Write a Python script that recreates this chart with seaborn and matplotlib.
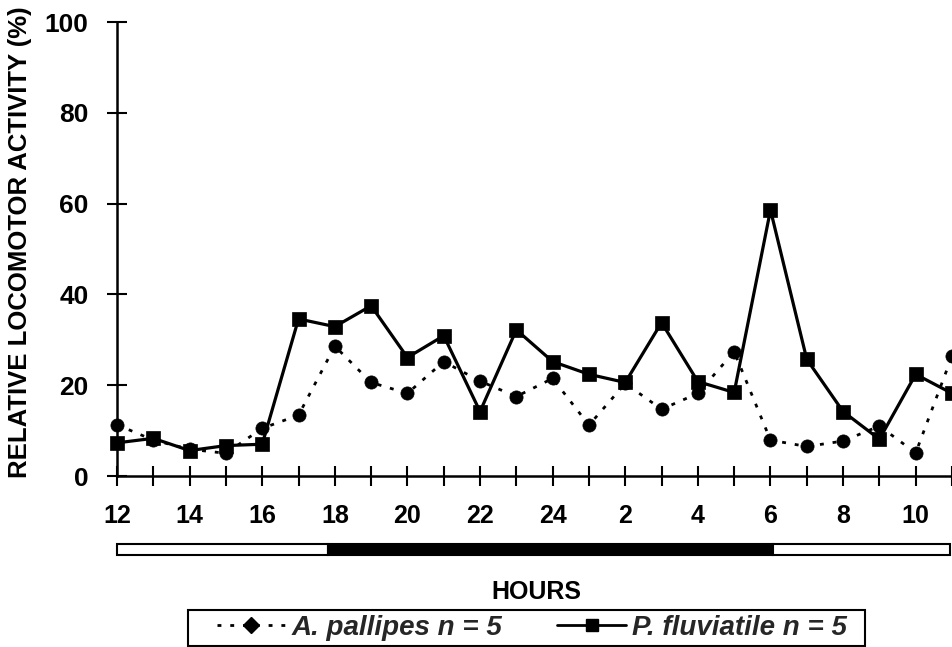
import numpy as np
import pandas as pd
import matplotlib
matplotlib.use("Agg")
import matplotlib.pyplot as plt
import matplotlib.transforms as mtransforms
from matplotlib.patches import Rectangle
from matplotlib.lines import Line2D
import seaborn as sns

# ---- data ----
hours = [12, 13, 14, 15, 16, 17, 18, 19, 20, 21, 22, 23,
         24, 1, 2, 3, 4, 5, 6, 7, 8, 9, 10, 11]
pallipes = [11.3, 7.9, 5.9, 5.0, 10.5, 13.4, 28.6, 20.6, 18.2, 25.2, 20.9, 17.5,
            21.5, 11.2, 20.4, 14.7, 18.2, 27.4, 7.9, 6.5, 7.7, 11.0, 5.1, 26.4]
fluviatile = [7.3, 8.3, 5.6, 6.7, 7.0, 34.6, 32.9, 37.5, 26.1, 30.9, 14.2, 32.2,
              25.2, 22.4, 20.6, 33.8, 20.8, 18.4, 58.6, 25.7, 14.2, 8.1, 22.4, 18.2]
light_dark = [("light", 0.0, 5.8), ("dark", 5.8, 18.07), ("light", 18.07, 22.95)]
labels = ["A. pallipes n = 5", "P. fluviatile n = 5"]

sns.set_theme(style="white")
plt.rcParams["font.family"] = ["Liberation Sans", "DejaVu Sans"]
plt.rcParams["font.weight"] = "bold"

W, H = 953, 647
fig = plt.figure(figsize=(W / 100, H / 100), dpi=100)
ax = fig.add_axes([117 / W, 1 - 476 / H, (952 - 117) / W, (476 - 22) / H])

pos = np.arange(len(hours))
df = pd.DataFrame({"pos": pos, "pallipes": pallipes, "fluviatile": fluviatile})

dotted = (0, (1.4, 3.2))
sns.lineplot(data=df, x="pos", y="pallipes", ax=ax, color="black",
             marker="o", markersize=9.5, linewidth=2.0, linestyle=dotted,
             markeredgecolor="black", markeredgewidth=0.5, clip_on=False, zorder=3)
sns.lineplot(data=df, x="pos", y="fluviatile", ax=ax, color="black",
             marker="s", markersize=9.5, linewidth=2.3, linestyle="-",
             markeredgecolor="black", markeredgewidth=0.5, clip_on=False, zorder=4)

ax.set_xlim(0, 23)
ax.set_ylim(0, 100)
ax.set_xticks(pos)
ax.set_xticklabels([str(h) if i % 2 == 0 else "" for i, h in enumerate(hours)])
ax.set_yticks([0, 20, 40, 60, 80, 100])
ax.set_xlabel("")
ax.set_ylabel("")

for s in ["top", "right"]:
    ax.spines[s].set_visible(False)
for s in ["left", "bottom"]:
    ax.spines[s].set_color("black")
    ax.spines[s].set_linewidth(1.8)

ax.tick_params(axis="both", which="major", bottom=True, left=True,
               direction="inout", length=15, width=1.5,
               color="black", labelsize=18, labelcolor="black")
ax.tick_params(axis="y", pad=13, labelsize=19)
ax.tick_params(axis="x", pad=13)
for t in ax.get_xticklabels() + ax.get_yticklabels():
    t.set_fontweight("bold")

# light/dark bar
trans = mtransforms.blended_transform_factory(ax.transData, ax.transAxes)
y0 = (476 - 555) / (476 - 22)
h = (555 - 544) / (476 - 22)
for phase, a, b in light_dark:
    ax.add_patch(Rectangle((a, y0), b - a, h, transform=trans, clip_on=False,
                           facecolor="black" if phase == "dark" else "white",
                           edgecolor="black", linewidth=1.5))

fig.text(536 / W, 1 - 592 / H, "HOURS", ha="center", va="center",
         fontsize=18, fontweight="bold", color="black")
fig.text(20 / W, 1 - 242 / H, "RELATIVE LOCOMOTOR ACTIVITY (%)", rotation=90,
         ha="center", va="center", fontsize=18.5, fontweight="bold", color="black")

# legend: frame drawn as a figure rectangle, entries placed inside it
fig.patches.append(Rectangle((188 / W, 1 - 646 / H), (865 - 188) / W, 36 / H,
                             transform=fig.transFigure, facecolor="white",
                             edgecolor="black", linewidth=1.5, zorder=1))
handles = [
    Line2D([], [], color="black", linestyle=dotted, linewidth=2.0,
           marker="D", markersize=8),
    Line2D([], [], color="black", linestyle="-", linewidth=2.0,
           marker="s", markersize=8),
]
leg = fig.legend(handles, labels, ncol=2, loc="center left",
                 bbox_to_anchor=(217 / W, 1 - 628 / H),
                 frameon=False, handlelength=2.45, borderpad=0.0,
                 borderaxespad=0.0, columnspacing=2.0, handletextpad=0.22,
                 prop={"size": 20, "weight": "bold", "style": "italic"})
leg.set_zorder(2)

fig.savefig("out.png", dpi=100, facecolor="white")
